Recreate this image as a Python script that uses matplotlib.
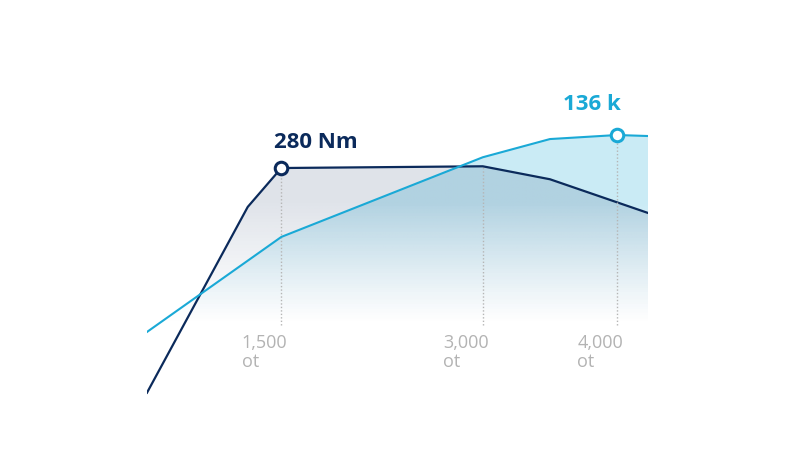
import numpy as np
import matplotlib
matplotlib.use("Agg")
import matplotlib.pyplot as plt
from matplotlib.patches import Polygon

# engine curve values
rpm_torque = [500, 1250, 1500, 3000, 3500, 4230]
torque = [20, 235, 280, 282, 267, 228]          # Nm
rpm_power = [500, 1500, 3000, 3500, 4000, 4230]
power = [38.6, 85.6, 125, 134, 136, 135.5]
tick_rpm = [1500, 3000, 4000]
tick_labels = ["1,500\not", "3,000\not", "4,000\not"]
peak_torque = (1500, 280, "280 Nm")
peak_power = (4000, 136, "136 k")

navy = "#0b2a5b"
cyan = "#1aa9d6"
grey = "#b5b5b5"

plt.rcParams["font.family"] = ["Open Sans", "DejaVu Sans"]

fig = plt.figure(figsize=(8, 4.5), dpi=100)
ax = fig.add_axes([147 / 800, 40 / 450, 501 / 800, 350 / 450])
ax.set_xlim(500, 4230)
ax.set_ylim(0, 405)
ax2 = ax.twinx()
ax2.set_ylim(0, 173.1)
ax.axis("off")
ax2.axis("off")

base_t = 98     # baseline of the grid lines, torque units
full_t = 240    # where the fade reaches full strength

def gradient_fill(xs, ys, trans, color, alpha):
    rgb = matplotlib.colors.to_rgb(color)
    yy = np.linspace(0, 405, 400)
    a = np.clip((yy - base_t) / (full_t - base_t), 0, 1) ** 1.2 * alpha
    img = np.zeros((len(yy), 2, 4))
    img[..., 0], img[..., 1], img[..., 2] = rgb
    img[..., 3] = a[:, None]
    im = ax.imshow(img, extent=[500, 4230, 0, 405], origin="lower",
                   aspect="auto", interpolation="bilinear", zorder=1)
    verts = list(zip(xs, ys)) + [(xs[-1], -1000), (xs[0], -1000)]
    poly = Polygon(verts, closed=True, transform=trans, facecolor="none", edgecolor="none")
    ax.add_patch(poly)
    im.set_clip_path(poly)

gradient_fill(rpm_power, power, ax2.transData, cyan, 0.23)
gradient_fill(rpm_torque, torque, ax.transData, navy, 0.13)
ax.set_xlim(500, 4230)
ax.set_ylim(0, 405)

# dotted guide lines
dots = dict(color=grey, lw=1, linestyles=(0, (1, 1.5)), zorder=2)
for r in tick_rpm[:2]:
    ax.vlines(r, base_t, np.interp(r, rpm_torque, torque), **dots)
ax2.vlines(4000, base_t * 173.1 / 405, peak_power[1], **dots)

ax.plot(rpm_torque, torque, color=navy, lw=1.6, zorder=3)
ax.plot([peak_torque[0]], [peak_torque[1]], "o", ms=9, mfc="white", mec=navy, mew=2.2, zorder=4)
ax2.plot(rpm_power, power, color=cyan, lw=1.5, zorder=3)
ax2.plot([peak_power[0]], [peak_power[1]], "o", ms=9, mfc="white", mec=cyan, mew=2.2, zorder=4)

ax.annotate(peak_torque[2], xy=peak_torque[:2], xytext=(-7, 20), textcoords="offset pixels",
            ha="left", va="baseline", fontsize=16, fontweight="bold", color=navy)
ax2.annotate(peak_power[2], xy=peak_power[:2], xytext=(4, 25), textcoords="offset pixels",
             ha="right", va="baseline", fontsize=16, fontweight="bold", color=cyan)

for r, lab in zip(tick_rpm, tick_labels):
    ax.annotate(lab, xy=(r, base_t), xytext=(6, -9), textcoords="offset pixels",
                ha="right", va="top", multialignment="left", fontsize=13,
                color="#b3b3b3", linespacing=1.05, annotation_clip=False)

fig.savefig("out.png", dpi=100, facecolor="white")
